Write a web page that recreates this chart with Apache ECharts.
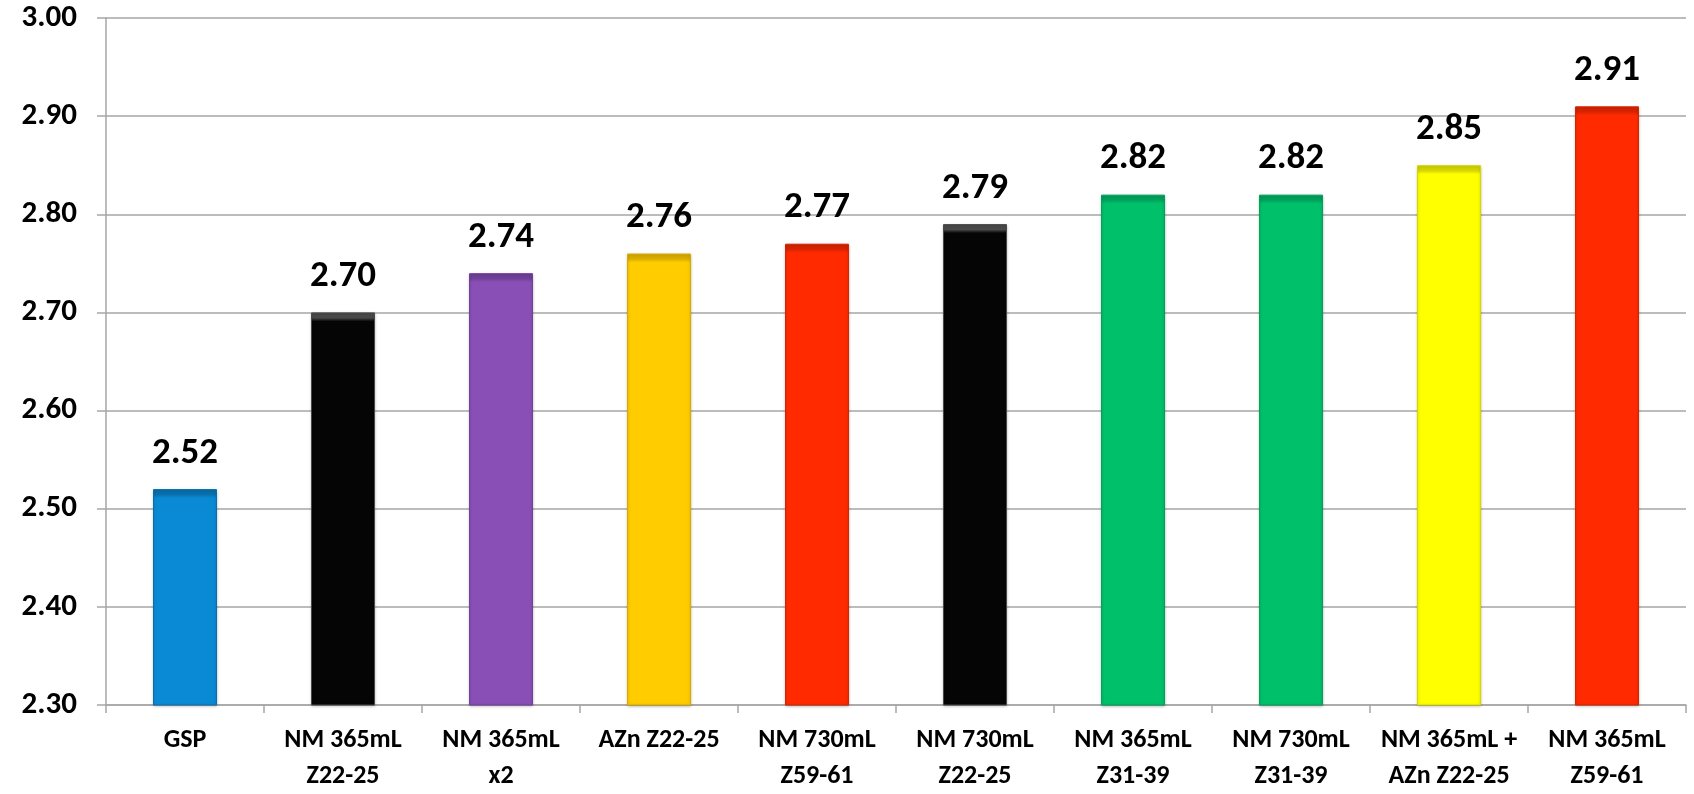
<!DOCTYPE html>
<html>
<head>
<meta charset="utf-8">
<title>bar chart</title>
<script src="https://cdn.jsdelivr.net/npm/echarts@6/dist/echarts.min.js"></script>
<style>
  html, body { margin: 0; padding: 0; background: #fff; }
  #main { width: 1694px; height: 794px; }
</style>
</head>
<body>
<div id="main"></div>
<script>
// data
var categories = ['GSP', 'NM 365mL\nZ22-25', 'NM 365mL\nx2', 'AZn Z22-25', 'NM 730mL\nZ59-61',
  'NM 730mL\nZ22-25', 'NM 365mL\nZ31-39', 'NM 730mL\nZ31-39', 'NM 365mL +\nAZn Z22-25', 'NM 365mL\nZ59-61'];
var values = [2.52, 2.70, 2.74, 2.76, 2.77, 2.79, 2.82, 2.82, 2.85, 2.91];
var yTicks = [2.30, 2.40, 2.50, 2.60, 2.70, 2.80, 2.90, 3.00];

// bar colours, one per category
var barColors = ['#0a8ad4', '#050505', '#8a4fb6', '#ffcc00', '#ff2a00',
  '#050505', '#00c06a', '#00c06a', '#ffff00', '#ff2a00'];
var edgeColors = ['#0a70ad', '#4a4a4a', '#70409a', '#d9ad00', '#d62400',
  '#4a4a4a', '#00a15b', '#00a15b', '#d6d600', '#d62400'];

var FONT = 'Carlito, Lato, sans-serif';

var chart = echarts.init(document.getElementById('main'), null, { renderer: 'canvas' });

function barItems(heights) {
  return values.map(function (v, i) {
    var color = barColors[i];
    if (heights) {
      // soft bevel at the top of each bar, a few px tall
      var t = Math.min(0.5, 9 / heights[i]);
      color = new echarts.graphic.LinearGradient(0, 0, 0, 1, [
        { offset: 0, color: edgeColors[i] },
        { offset: t * 0.6, color: edgeColors[i] },
        { offset: t, color: barColors[i] },
        { offset: 1, color: barColors[i] }
      ]);
    }
    return {
      value: v,
      itemStyle: {
        color: color,
        borderColor: edgeColors[i],
        borderWidth: 1,
        shadowColor: 'rgba(0,0,0,0.25)',
        shadowBlur: 3,
        shadowOffsetY: 1
      }
    };
  });
}

var option = {
  animation: false,
  grid: {
    left: 106,
    right: 8,
    top: 18,
    bottom: 85,
    containLabel: false
  },
  xAxis: {
    type: 'category',
    data: categories,
    axisLine: { lineStyle: { color: '#a6a6a6', width: 1.5 } },
    axisTick: { show: true, length: 8, alignWithLabel: false, lineStyle: { color: '#a6a6a6', width: 1.5 } },
    axisLabel: {
      interval: 0,
      margin: 17,
      color: '#000',
      fontFamily: FONT,
      fontWeight: 'bold',
      fontSize: 26,
      lineHeight: 36
    }
  },
  yAxis: {
    type: 'value',
    min: yTicks[0],
    max: yTicks[yTicks.length - 1],
    interval: 0.1,
    axisLine: { show: true, lineStyle: { color: '#a6a6a6', width: 1.5 } },
    axisTick: { show: true, length: 9, lineStyle: { color: '#a6a6a6', width: 1.5 } },
    splitLine: { lineStyle: { color: '#a6a6a6', width: 1.5 } },
    axisLabel: {
      margin: 29,
      color: '#000',
      fontFamily: FONT,
      fontWeight: 'bold',
      fontSize: 31,
      padding: [9, 0, 0, 0],
      formatter: function (v) { return v.toFixed(2); }
    }
  },
  series: [{
    type: 'bar',
    barWidth: 64,
    data: barItems(null),
    label: {
      show: true,
      position: 'top',
      distance: 17,
      color: '#000',
      fontFamily: FONT,
      fontWeight: 'bold',
      fontSize: 37,
      formatter: function (p) { return p.value.toFixed(2); }
    }
  }]
};

chart.setOption(option);

// bar pixel heights from the axis scale, used for the bevel band
var base = chart.convertToPixel({ gridIndex: 0 }, [0, yTicks[0]])[1];
var heights = values.map(function (v, i) {
  return base - chart.convertToPixel({ gridIndex: 0 }, [i, v])[1];
});
chart.setOption({ series: [{ data: barItems(heights) }] });
</script>
</body>
</html>
